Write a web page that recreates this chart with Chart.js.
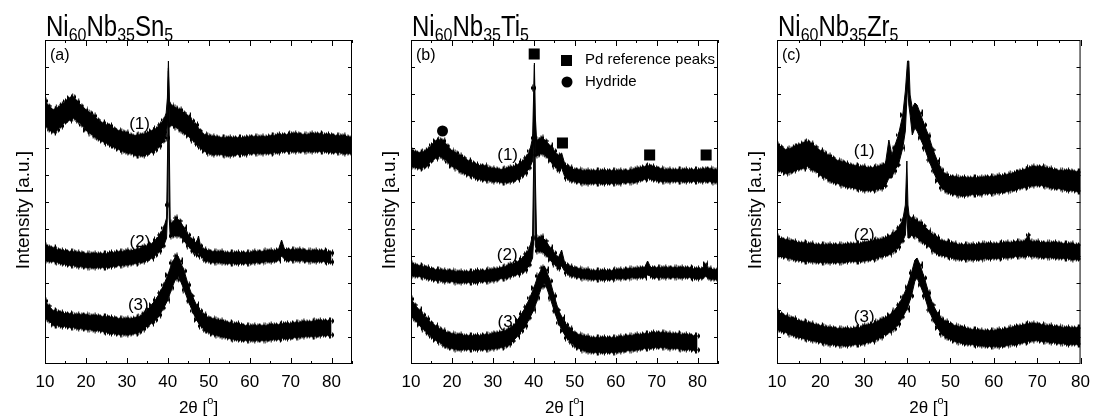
<!DOCTYPE html>
<html>
<head>
<meta charset="utf-8">
<script src="https://cdn.jsdelivr.net/npm/chart.js@4.4.1/dist/chart.umd.min.js"></script>
<style>
  body { margin: 0; background: #fff; }
  #wrap { position: relative; width: 1098px; height: 420px; }
  canvas { position: absolute; top: 0; }
</style>
</head>
<body>
<div id="wrap">
  <canvas id="chartA" width="366" height="420" style="left:0px"></canvas>
  <canvas id="chartB" width="366" height="420" style="left:366px"></canvas>
  <canvas id="chartC" width="366" height="420" style="left:732px"></canvas>
</div>
<script>
// ---- data (2theta in degrees, intensity in a.u.) ----
// each curve is a noisy band: upper edge (Hi) and lower edge (Lo)

// (a) Ni60Nb35Sn5
const aX1  = [10,11,12,13,14,15,16,17,18,19,20,21,22,23,24,25,26,27,28,29,30,31,32,33,34,35,36,37,38,39,39.6,39.9,40.15,40.4,
              41,42,43,44,45,46,47,48,49,50,51,52,53,54,55,56,57,58,59,60,61,62,63,64,65,66,67,68,69,70,71,72,73,74,75,76,77,78,79,80,81,82,83,84,85];
const aHi1 = [263,258,254,256,259,263,266,267,262,258,254,251,248,244,241,239,238,235,233,232,231,229,228,229,229,231,233,235,239,244,251,266,303,263,
              258,256,254,251,248,243,239,233,229,228,227,227,226,226,226,226,226,226,226,227,227,227,227,227,228,228,229,229,229,230,230,230,229,229,230,230,230,229,229,229,228,228,228,227,226];
const aLo1 = [239,234,232,234,238,242,244,246,243,239,234,231,228,225,223,221,219,217,215,213,212,211,209,209,209,210,212,214,218,223,229,239,293,238,
              239,237,234,231,228,224,220,216,213,211,210,210,210,209,209,209,210,210,210,211,211,211,211,211,211,212,212,213,213,213,213,213,213,213,213,213,213,213,213,212,212,212,211,211,211];

const aX2  = [10,11,12,13,14,15,16,17,18,19,20,21,22,23,24,25,26,27,28,29,30,31,32,33,34,35,36,37,38,39,39.7,40,40.15,40.35,40.6,
              41,42,43,44,45,46,47,47.5,48,49,50,51,52,53,54,55,56,57,58,59,60,61,62,63,64,65,66,67,67.8,68.5,69,70,71,72,73,74,75,76,77,78,79,80];
const aHi2 = [118,117,116,114,113,113,112,112,111,111,110,110,110,110,110,110,111,111,112,112,113,113,114,115,117,118,120,124,129,136,146,226,296,226,139,
              141,146,143,136,129,124,121,128,118,114,113,112,112,112,111,111,111,111,111,111,111,112,112,112,113,113,113,114,124,115,114,114,114,114,114,113,113,113,113,113,112,111];
const aLo2 = [104,103,103,102,101,100,99,99,98,98,97,97,97,97,97,97,98,98,99,99,100,100,101,102,103,104,106,109,113,118,126,159,259,146,126,
              128,129,128,123,118,113,109,111,108,104,103,102,102,102,101,101,101,101,101,101,101,102,102,102,103,103,103,104,108,105,104,104,104,104,104,103,103,103,103,103,102,102];

const aX3  = [10,11,12,13,14,15,16,17,18,19,20,21,22,23,24,25,26,27,28,29,30,31,32,33,34,35,36,37,38,39,40,41,42,42.5,
              43,44,45,46,47,48,49,50,51,52,53,54,55,56,57,58,59,60,61,62,63,64,65,66,67,68,69,70,71,72,73,74,75,76,77,78,79,80];
const aHi3 = [63,58,53,52,51,50,50,49,49,49,49,48,48,48,47,47,46,46,45,45,45,45,46,47,50,54,59,64,71,79,89,101,108,108,
              103,93,79,68,59,53,49,46,45,44,43,42,41,40,40,39,38,38,38,38,38,38,39,39,39,40,40,40,41,41,42,42,42,43,43,43,43,43];
const aLo3 = [46,43,39,39,38,38,37,37,36,36,35,35,34,34,33,32,31,31,30,30,30,30,31,32,35,38,41,44,49,56,64,76,86,88,
              84,74,63,53,44,38,34,32,30,29,28,27,26,25,25,24,24,24,24,24,24,24,25,25,25,26,26,26,27,27,28,28,28,28,29,29,29,29];

// (b) Ni60Nb35Ti5
const bX1  = [10,11,12,13,14,15,16,17,18,19,20,21,22,23,24,25,26,27,28,29,30,31,32,33,34,35,36,37,38,39,39.7,40,40.15,40.35,40.7,
              41,42,43,44,45,46,46.8,47.5,48,49,50,51,52,53,54,55,56,57,58,59,60,61,62,63,64,65,66,67,68,69,70,71,72,73,74,75,76,77,78,79,80,81,82,83,84,85];
const bHi1 = [213,212,211,212,214,219,223,224,223,218,213,211,208,206,203,201,199,198,198,196,195,195,194,195,196,197,199,202,206,213,226,276,301,249,223,
              224,226,223,218,213,208,211,201,198,196,194,194,193,193,193,193,193,193,193,193,193,193,193,193,194,195,196,197,198,197,196,195,194,194,194,194,194,194,194,194,194,194,195,195,194,194];
const bLo1 = [198,197,196,197,199,203,206,208,206,202,198,196,193,191,189,188,186,185,184,184,183,183,182,182,183,183,185,188,191,196,203,226,276,213,208,
              209,211,208,203,198,194,196,188,186,184,183,182,181,181,181,181,181,181,181,181,181,181,182,182,182,183,184,185,186,185,184,183,183,183,183,183,183,183,183,183,183,183,183,183,182,182];

const bX2  = [10,11,12,13,14,15,16,17,18,19,20,21,22,23,24,25,26,27,28,29,30,31,32,33,34,35,36,37,38,39,39.7,40,40.15,40.35,40.7,
              41,42,43,44,45,46,46.8,47.5,48,49,50,51,52,53,54,55,56,57,58,59,60,61,62,63,64,65,66,67,67.8,68.5,69,70,71,72,73,74,75,76,77,78,79,80,81,82,82.6,83,84,85];
const bHi2 = [100,99,98,97,96,95,94,94,93,93,93,92,92,92,92,92,93,93,93,94,94,95,96,97,99,100,102,105,110,116,129,209,299,193,124,
              126,127,123,116,111,106,114,102,99,97,96,95,94,94,93,93,93,93,93,93,94,94,94,95,95,95,96,96,103,97,96,96,96,96,96,96,96,96,96,96,95,95,95,100,95,95,94,94];
const bLo2 = [89,88,88,87,86,85,84,84,83,83,83,82,82,82,82,82,82,83,83,83,84,84,86,86,88,89,90,92,94,99,106,126,259,119,113,
              113,113,109,104,100,96,98,93,91,89,88,87,86,86,85,85,85,85,85,85,86,86,86,86,87,87,87,87,89,88,87,87,87,87,87,87,87,87,87,87,86,86,86,88,86,86,85,85];

const bX3  = [10,11,12,13,14,15,16,17,18,19,20,21,22,23,24,25,26,27,28,29,30,31,32,33,34,35,36,37,38,39,40,41,42,42.6,
              43,44,45,46,47,48,49,50,51,52,53,54,55,56,57,58,59,60,61,62,63,64,65,66,67,68,69,70,71,72,73,74,75,76,77,78,79,80];
const bHi3 = [65,59,54,49,45,41,38,35,33,31,30,29,29,28,28,28,28,28,29,29,30,31,32,33,35,38,44,50,57,66,76,88,96,98,
              94,83,68,54,46,39,35,31,29,28,27,26,26,26,26,26,26,26,27,27,28,28,29,29,30,30,31,31,31,31,30,30,30,29,29,29,28,28];
const bLo3 = [48,44,39,35,31,27,24,22,19,17,16,15,15,15,15,15,15,15,15,15,16,16,17,18,20,23,28,33,38,46,54,66,78,81,
              78,66,53,41,33,26,22,18,16,14,13,12,12,12,12,12,12,12,13,13,14,14,15,15,16,16,17,17,17,17,16,16,16,15,15,15,14,14];

// Pd reference peaks and hydride markers in (b)
const pdX  = [40.1, 47.0, 68.3, 82.1];
const pdY  = [310, 221, 209, 209];
const hydX = [17.7];
const hydY = [233];

// (c) Ni60Nb35Zr5
const cX1  = [10,11,12,13,14,15,16,17,18,19,20,21,22,23,24,25,26,27,28,29,30,31,32,33,34,35,35.8,36.5,37,38,39,39.6,40.1,40.4,40.7,41.2,41.8,42.3,
              43,44,45,46,47,48,49,50,51,52,53,54,55,56,57,58,59,60,61,62,63,64,65,66,67,68,69,70,71,72,73,74,75,76,77,78,79,80];
const cHi1 = [219,217,214,215,217,219,221,222,220,217,213,211,208,206,203,202,200,199,198,197,197,196,196,197,198,200,224,209,216,229,249,273,303,303,269,256,261,259,
              251,239,228,214,203,194,189,187,187,186,186,186,186,186,186,187,187,187,188,188,189,190,191,193,194,196,197,197,197,196,195,194,193,193,193,193,192,192];
const cLo1 = [194,193,191,192,194,195,196,198,195,193,189,187,184,182,181,179,178,177,176,175,174,174,174,175,176,178,186,186,193,199,216,233,279,259,249,229,236,233,
              226,216,204,193,183,176,173,171,170,169,169,169,170,170,170,171,171,171,172,172,173,174,175,176,177,178,179,179,179,178,177,176,176,175,174,174,173,173];

const cX2  = [10,11,12,13,14,15,16,17,18,19,20,21,22,23,24,25,26,27,28,29,30,31,32,33,34,35,36,37,38,39,39.6,39.95,40.2,40.6,
              41,42,43,44,45,46,47,48,49,50,51,52,53,54,55,56,57,58,59,60,61,62,63,64,65,66,67,68,68.5,69,70,71,72,73,74,75,76,77,78,79,80];
const cHi2 = [127,125,124,123,122,121,121,120,120,119,119,119,119,119,119,119,119,120,120,120,121,122,123,124,124,126,128,131,136,144,159,203,159,143,
              146,144,141,138,133,129,126,123,122,121,120,119,119,119,119,119,120,120,120,120,120,121,121,121,122,122,122,129,122,122,122,121,121,121,121,121,120,120,120,119,119];
const cLo2 = [109,108,107,106,105,104,103,103,103,102,102,102,102,102,102,102,103,103,103,103,104,104,105,106,108,109,110,113,117,123,129,153,126,126,
              129,128,124,121,118,113,111,109,108,107,106,105,105,105,105,105,105,106,106,106,106,107,107,107,108,108,108,109,108,108,108,107,107,107,107,106,106,106,105,105,105];

const cX3  = [10,11,12,13,14,15,16,17,18,19,20,21,22,23,24,25,26,27,28,29,30,31,32,33,34,35,36,37,38,39,40,41,41.8,42.3,
              43,44,45,46,47,48,49,50,51,52,53,54,55,56,57,58,59,60,61,62,63,64,65,66,67,68,69,70,71,72,73,74,75,76,77,78,79,80];
const cHi3 = [52,50,48,46,45,43,42,41,40,39,38,37,36,36,35,35,35,35,36,36,38,39,40,42,44,46,49,53,59,67,77,91,104,106,
              99,86,71,59,51,45,42,40,38,37,36,35,34,34,33,33,33,33,34,34,35,36,37,38,39,40,40,40,39,38,38,37,37,36,36,36,36,36];
const cLo3 = [35,33,32,30,29,27,26,25,24,23,22,21,20,20,19,19,19,19,20,20,21,22,23,25,27,30,32,35,40,47,55,68,83,86,
              79,68,54,44,36,30,27,25,23,22,21,20,20,19,19,18,18,18,18,18,19,20,20,21,22,23,24,24,23,23,22,22,21,21,20,20,20,20];

const xTicks = [10, 20, 30, 40, 50, 60, 70, 80];
// ---------------------------------------------------------------------------

const FONT = '"Liberation Sans", Arial, Helvetica, sans-serif';

// small comb sprites used as point style, so the band edges look noisy
const combLens = [[0, 2, 1, 3, 1], [1, 0, 2, 1, 0], [2, 1, 0, 1, 3], [1, 3, 0, 2, 1]];
const combs = combLens.map(h => {
    const c = document.createElement('canvas');
    c.width = h.length;
    c.height = 9;
    const g = c.getContext('2d');
    g.fillStyle = '#000';
    h.forEach((v, i) => g.fillRect(i, 4 - v, 1, 2 * v + 1));
    return c;
});

function pts(xs, ys) {
    return xs.map((x, i) => ({ x: x, y: ys[i] }));
}

const edge = {
    borderColor: '#000',
    borderWidth: 1,
    tension: 0,
    pointRadius: c => (c.raw && Number.isInteger(c.raw.x) ? 3 : 0),
    pointStyle: c => combs[c.dataIndex % combs.length]
};

function band(xs, hi, lo) {
    return [
        Object.assign({ data: pts(xs, hi), fill: false }, edge),
        Object.assign({ data: pts(xs, lo), fill: '-1', backgroundColor: '#000' }, edge)
    ];
}

function line(ctx, x1, y1, x2, y2) {
    ctx.beginPath();
    ctx.moveTo(x1, y1);
    ctx.lineTo(x2, y2);
    ctx.stroke();
}

// chemical formula with subscripts
function formula(ctx, parts, x, y) {
    ctx.save();
    ctx.translate(x, y);
    ctx.scale(1, 1.2);
    let cx = 0;
    parts.forEach((p, i) => {
        if (i % 2 === 0) {
            ctx.font = '24px ' + FONT;
            ctx.fillText(p, cx, 0);
        } else {
            ctx.font = '16px ' + FONT;
            ctx.fillText(p, cx, 4.5);
        }
        cx += ctx.measureText(p).width;
    });
    ctx.restore();
}

const frame = {
    id: 'frame',
    afterDraw(chart) {
        const p = chart.options.plugins.frame;
        const { ctx, chartArea: a, scales: { x, y } } = chart;
        ctx.save();
        ctx.strokeStyle = '#000';
        ctx.fillStyle = '#000';
        ctx.lineWidth = 1;
        // white out anything outside the box (comb sprites at the edges)
        ctx.clearRect(a.right, 0, chart.width - a.right, a.bottom);
        ctx.clearRect(a.left - 6, a.top, 6, a.bottom - a.top);
        ctx.strokeRect(a.left + 0.5, a.top + 0.5, a.right - a.left - 1, a.bottom - a.top - 1);

        // inward ticks on all four sides
        for (let v = 10; v <= p.xMax; v += 5) {
            const px = Math.round(x.getPixelForValue(v)) + 0.5;
            const len = v % 10 === 0 ? 6 : 3;
            line(ctx, px, a.bottom, px, a.bottom - len);
            line(ctx, px, a.top, px, a.top + len);
        }
        for (let v = 27; v < 324; v += 27) {
            const py = Math.round(y.getPixelForValue(v)) + 0.5;
            line(ctx, a.left, py, a.left + 4, py);
            line(ctx, a.right, py, a.right - 4, py);
        }

        // axis titles
        ctx.textBaseline = 'alphabetic';
        ctx.textAlign = 'left';
        ctx.font = '17px ' + FONT;
        const cxm = (a.left + a.right) / 2;
        const w1 = ctx.measureText('2\u03b8 [').width;
        ctx.font = '11px ' + FONT;
        const w2 = ctx.measureText('o').width;
        ctx.font = '17px ' + FONT;
        const w3 = ctx.measureText(']').width;
        let sx = cxm - (w1 + w2 + w3) / 2;
        ctx.fillText('2\u03b8 [', sx, 413);
        ctx.font = '11px ' + FONT;
        ctx.fillText('o', sx + w1, 404);
        ctx.font = '17px ' + FONT;
        ctx.fillText(']', sx + w1 + w2, 413);

        ctx.save();
        ctx.translate(24, 210);
        ctx.rotate(-Math.PI / 2);
        ctx.textAlign = 'center';
        ctx.textBaseline = 'middle';
        ctx.font = '19px ' + FONT;
        ctx.fillText('Intensity [a.u.]', 0, 0);
        ctx.restore();

        // panel title and letter
        formula(ctx, p.title, a.left + 1, 36);
        ctx.font = '16px ' + FONT;
        ctx.textBaseline = 'middle';
        ctx.fillText(p.letter, a.left + 5, 56);

        // curve numbers
        ctx.textAlign = 'center';
        ctx.font = '17px ' + FONT;
        p.labels.forEach(l => {
            ctx.fillText(l[0], x.getPixelForValue(l[1]), y.getPixelForValue(l[2]));
        });

        // legend inside (b)
        if (p.legend) {
            ctx.textAlign = 'left';
            ctx.font = '15px ' + FONT;
            ctx.fillRect(a.left + 150, 55, 11, 11);
            ctx.fillText('Pd reference peaks', a.left + 174, 60);
            ctx.beginPath();
            ctx.arc(a.left + 156, 82, 5.5, 0, Math.PI * 2);
            ctx.fill();
            ctx.fillText('Hydride', a.left + 174, 82);
        }
        ctx.restore();
    }
};

function makeChart(id, xMax, datasets, extra) {
    const ctx = document.getElementById(id).getContext('2d');
    return new Chart(ctx, {
        type: 'line',
        data: { datasets: datasets },
        options: {
            responsive: false,
            animation: false,
            events: [],
            layout: { padding: { top: 40, right: 14, left: 0, bottom: 0 } },
            plugins: {
                legend: { display: false },
                tooltip: { enabled: false },
                frame: Object.assign({ xMax: xMax }, extra)
            },
            scales: {
                x: {
                    type: 'linear',
                    min: 10,
                    max: xMax,
                    afterFit: s => { s.height = 56; },
                    afterBuildTicks: s => { s.ticks = xTicks.map(v => ({ value: v })); },
                    grid: { display: false, drawTicks: false },
                    border: { display: false },
                    ticks: { color: '#000', font: { family: FONT, size: 17 }, padding: 8, maxRotation: 0, autoSkip: false }
                },
                y: {
                    min: 0,
                    max: 324,
                    afterFit: s => { s.width = 45; },
                    grid: { display: false, drawTicks: false },
                    border: { display: false },
                    ticks: { display: false }
                }
            }
        },
        plugins: [frame]
    });
}

makeChart('chartA', 85,
    [...band(aX1, aHi1, aLo1), ...band(aX2, aHi2, aLo2), ...band(aX3, aHi3, aLo3)],
    { title: ['Ni', '60', 'Nb', '35', 'Sn', '5'], letter: '(a)',
      labels: [['(1)', 33.1, 240], ['(2)', 33.2, 122], ['(3)', 32.8, 59]] });

makeChart('chartB', 85,
    [...band(bX1, bHi1, bLo1), ...band(bX2, bHi2, bLo2), ...band(bX3, bHi3, bLo3),
     { data: pts(pdX, pdY), showLine: false, pointStyle: 'rect', pointRadius: 7.8, backgroundColor: '#000', borderWidth: 0 },
     { data: pts(hydX, hydY), showLine: false, pointStyle: 'circle', pointRadius: 5.5, backgroundColor: '#000', borderWidth: 0 }],
    { title: ['Ni', '60', 'Nb', '35', 'Ti', '5'], letter: '(b)', legend: true,
      labels: [['(1)', 33.6, 209], ['(2)', 33.5, 109], ['(3)', 33.7, 42]] });

makeChart('chartC', 80,
    [...band(cX1, cHi1, cLo1), ...band(cX2, cHi2, cLo2), ...band(cX3, cHi3, cLo3)],
    { title: ['Ni', '60', 'Nb', '35', 'Zr', '5'], letter: '(c)',
      labels: [['(1)', 30.1, 213], ['(2)', 30.1, 129], ['(3)', 30.1, 47]] });
</script>
</body>
</html>
